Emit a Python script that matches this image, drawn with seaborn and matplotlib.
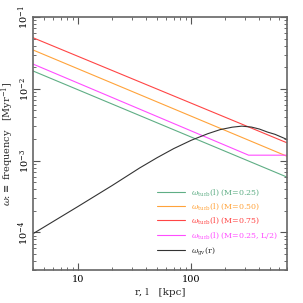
import numpy as np
import pandas as pd
import matplotlib
matplotlib.use("Agg")
import matplotlib.pyplot as plt
import seaborn as sns

# values (log-log axes)
x_ends = [4, 700]
turb_m025 = [0.0177, 5.9e-4]
turb_m050 = [0.0347, 1.15e-3]
turb_m075 = [0.0514, 1.77e-3]
half_x = [4, 321, 700]
turb_half = [0.0221, 1.19e-3, 1.19e-3]
gv_r = [4, 10, 20, 35, 50, 70, 100, 140, 180, 230, 280, 340, 400, 470, 550, 620, 700]
gv_w = [9.6e-5, 2.3e-4, 4.5e-4, 7.9e-4, 1.1e-3, 1.47e-3, 1.92e-3, 2.37e-3, 2.7e-3,
        2.92e-3, 3.02e-3, 2.93e-3, 2.75e-3, 2.5e-3, 2.32e-3, 2.14e-3, 1.97e-3]

labels = [r"$\omega_{\rm turb}$(l) (M=0.25)",
          r"$\omega_{\rm turb}$(l) (M=0.50)",
          r"$\omega_{\rm turb}$(l) (M=0.75)",
          r"$\omega_{\rm turb}$(l) (M=0.25, L/2)",
          r"$\omega_{\rm gv}$(r)"]
colors = ["#5fae85", "#ffa33a", "#ff4545", "#ff4dff", "#333333"]

df = pd.concat([
    pd.DataFrame({"x": x_ends, "y": turb_m025, "s": labels[0]}),
    pd.DataFrame({"x": x_ends, "y": turb_m050, "s": labels[1]}),
    pd.DataFrame({"x": x_ends, "y": turb_m075, "s": labels[2]}),
    pd.DataFrame({"x": half_x, "y": turb_half, "s": labels[3]}),
    pd.DataFrame({"x": gv_r, "y": gv_w, "s": labels[4]}),
], ignore_index=True)

sns.set_style("ticks")
plt.rcParams["font.family"] = ["DejaVu Serif"]
plt.rcParams["mathtext.fontset"] = "dejavuserif"

fig = plt.figure(figsize=(3.03, 3.03), dpi=100)
ax = fig.add_axes([0.109, 0.109, 0.838, 0.835])
sns.lineplot(data=df, x="x", y="y", hue="s", palette=colors, hue_order=labels,
             sort=False, estimator=None, linewidth=0.8, ax=ax)
ax.set_xscale("log")
ax.set_yscale("log")
ax.set_xlim(4, 700)
ax.set_ylim(3e-5, 1e-1)

ax.set_xticks([10, 100])
ax.set_xticklabels(["10", "100"])
ax.tick_params(which="both", direction="in", top=True, right=True, colors="#555555",
               labelcolor="black", labelsize=7)
ax.tick_params(which="major", length=5, width=0.8)
ax.tick_params(which="minor", length=2.5, width=0.6)
ax.tick_params(axis="y", pad=1.5)
for lab in ax.get_yticklabels():
    lab.set_rotation(90)
    lab.set_va("center")
for sp in ax.spines.values():
    sp.set_color("#666666")
    sp.set_linewidth(1.2)

ax.set_xlabel("r, l   [kpc]", fontsize=7.5, labelpad=3)
ax.set_ylabel(r"$\omega$:$\equiv$ frequency   [Myr$^{-1}$]", fontsize=7)
ax.yaxis.set_label_coords(-0.068, 0.5)

leg = ax.legend(loc="lower left", bbox_to_anchor=(0.46, 0.025), frameon=False, fontsize=5.7,
                handlelength=3.6, labelspacing=0.5, handletextpad=0.7, labelcolor="linecolor")
for line in leg.get_lines():
    line.set_linewidth(0.8)

fig.savefig("out.png", dpi=100)
